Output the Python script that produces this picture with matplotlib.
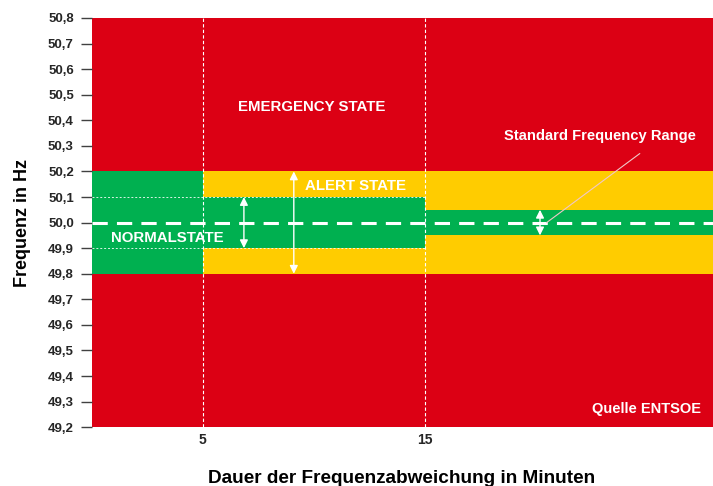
import matplotlib
matplotlib.use("Agg")
import matplotlib.pyplot as plt
from matplotlib.ticker import FuncFormatter

plt.rcParams['font.family'] = ['Liberation Sans', 'DejaVu Sans']

# band data (minutes, Hz)
x_edges = [0, 5, 15, 28]
alert_lo = [49.8, 49.8, 49.8]
alert_hi = [50.2, 50.2, 50.2]
normal_lo = [49.8, 49.9, 49.95]
normal_hi = [50.2, 50.1, 50.05]
nominal = 50.0
y_min, y_max = 49.2, 50.8
y_ticks = [49.2, 49.3, 49.4, 49.5, 49.6, 49.7, 49.8, 49.9, 50.0,
           50.1, 50.2, 50.3, 50.4, 50.5, 50.6, 50.7, 50.8]
x_ticks = [5, 15]

# arrows: x position, low, high
arrows = [(6.85, 49.9, 50.1), (9.1, 49.8, 50.2), (20.2, 49.95, 50.05)]

red = "#DC0014"
yellow = "#FFCC00"
green = "#00B050"

fig = plt.figure(figsize=(7.13, 4.86), dpi=100)
ax = fig.add_axes([0.129, 0.121, 0.871, 0.842])

def steps(vals):
    return vals + [vals[-1]]

ax.fill_between(x_edges, y_min, y_max, color=red, lw=0)
ax.fill_between(x_edges, steps(alert_lo), steps(alert_hi), step='post', color=yellow, lw=0)
ax.fill_between(x_edges, steps(normal_lo), steps(normal_hi), step='post', color=green, lw=0)

# thin dotted limits of the normal band
ax.hlines([normal_lo[1], normal_hi[1]], x_edges[0], x_edges[2], colors='white',
          linestyles=(0, (2, 2)), lw=0.7, alpha=0.85)
# time marks
for xt in x_ticks:
    ax.axvline(xt, color='white', ls=(0, (3, 2)), lw=0.8)
# nominal frequency
ax.axhline(nominal, color='white', ls=(0, (5, 3)), lw=2.2)

for xa, lo, hi in arrows:
    ax.annotate('', xy=(xa, hi), xytext=(xa, lo),
                arrowprops=dict(arrowstyle='<|-|>', color='white', lw=1.0,
                                mutation_scale=12, shrinkA=0, shrinkB=0))

# leader line to the standard range arrow
ax.annotate('', xy=(20.5, 50.0), xytext=(24.7, 50.27),
            arrowprops=dict(arrowstyle='-', color='#F0C8C8', lw=0.8,
                            shrinkA=0, shrinkB=0))
ax.text(22.9, 50.34, 'Standard Frequency Range', color='white', fontsize=10.6,
        fontweight='bold', ha='center', va='center')

ax.text(9.9, 50.45, 'EMERGENCY STATE', color='white', fontsize=10.8,
        fontweight='bold', ha='center', va='center')
ax.text(11.9, 50.145, 'ALERT STATE', color='white', fontsize=10.8,
        fontweight='bold', ha='center', va='center')
ax.text(3.4, 49.94, 'NORMALSTATE', color='white', fontsize=10.8,
        fontweight='bold', ha='center', va='center')
ax.text(27.45, 49.27, 'Quelle ENTSOE', color='white', fontsize=10.5,
        fontweight='bold', ha='right', va='center')

ax.set_xlim(x_edges[0], x_edges[-1])
ax.set_ylim(y_min, y_max)
ax.set_yticks(y_ticks)
ax.set_xticks(x_ticks)
ax.yaxis.set_major_formatter(FuncFormatter(lambda v, p: f"{v:.1f}".replace('.', ',')))
ax.tick_params(axis='y', length=8, width=1, color='#404040', labelsize=9.5,
               pad=5)
ax.tick_params(axis='x', length=0, labelsize=10, pad=4)
for lbl in ax.get_yticklabels() + ax.get_xticklabels():
    lbl.set_fontweight('bold')
    lbl.set_color('#262626')
for s in ax.spines.values():
    s.set_visible(False)

ax.set_ylabel('Frequenz in Hz', fontsize=13, fontweight='bold', labelpad=12)
fig.text(0.563, 1 - 478 / 486, 'Dauer der Frequenzabweichung in Minuten',
         fontsize=13.7, fontweight='bold', ha='center', va='center')

fig.savefig('out.png', dpi=100)
